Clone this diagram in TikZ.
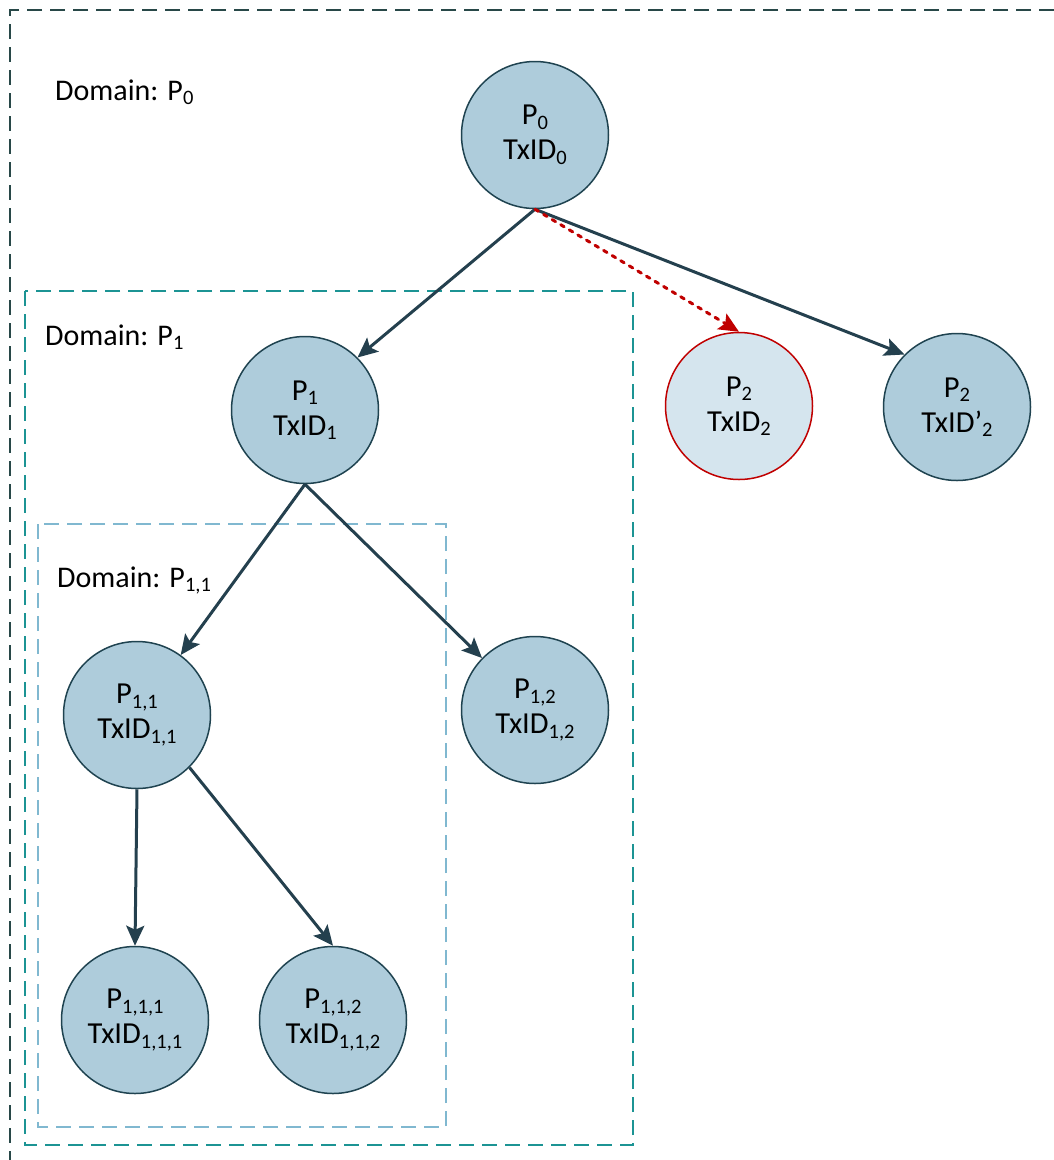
\documentclass[tikz,border=0pt]{standalone}
\usepackage{fontspec}
\setmainfont{Carlito}
\usetikzlibrary{arrows.meta}
\definecolor{nodefill}{RGB}{174,204,219}
\definecolor{nodeline}{RGB}{31,67,80}
\definecolor{edgecol}{RGB}{36,64,78}
\definecolor{redfill}{RGB}{213,229,238}
\definecolor{redline}{RGB}{192,0,0}
\definecolor{outerbox}{RGB}{40,72,72}
\definecolor{tealbox}{RGB}{28,148,148}
\definecolor{lightbox}{RGB}{128,184,208}
\newcommand{\lsub}[1]{\raisebox{-4.5pt}{\fontsize{20.5}{20}\selectfont #1}}
\tikzset{
  pnode/.style={circle, draw=nodeline, fill=nodefill, line width=1.5pt, minimum size=147pt, inner sep=0pt, align=center, font=\fontsize{30.5}{35}\selectfont},
  rednode/.style={pnode, draw=redline, fill=redfill},
  edge/.style={draw=edgecol, line width=3pt, -{Stealth[length=20pt,width=18pt,inset=4pt]}},
  rededge/.style={draw=redline, line width=3pt, dash pattern=on 4pt off 6pt, line cap=round, -{Stealth[length=20pt,width=18pt,inset=4pt,line cap=butt]}},
  dom/.style={dash pattern=on 15pt off 8pt, line width=1.5pt},
  domlabel/.style={anchor=base west, inner sep=0pt, font=\fontsize{30}{36}\selectfont}
}
\begin{document}
\begin{tikzpicture}[x=1pt,y=1pt]
\useasboundingbox (0,0) rectangle (1054,-1160);
% domain boxes
\draw[dom, draw=outerbox] (1054,-10) -- (10,-10) -- (10,-1160);
\draw[dom, draw=tealbox] (25,-291) rectangle (633,-1145);
\draw[dom, draw=lightbox] (38,-524) rectangle (446,-1127);
\node[domlabel] (d0) at (55,-100) {Domain: P\lsub{0}};
\node[domlabel] (d1) at (45,-345) {Domain: P\lsub{1}};
\node[domlabel] (d11) at (57,-587) {Domain: P\lsub{1,1}};
% nodes
\node[pnode] (P0) at (535,-135) {P\lsub{0}\\TxID\lsub{0}};
\node[pnode] (P1) at (305,-410) {P\lsub{1}\\TxID\lsub{1}};
\node[rednode] (P2a) at (739,-406) {P\lsub{2}\\TxID\lsub{2}};
\node[pnode] (P2b) at (957,-407) {P\lsub{2}\\TxID’\lsub{2}};
\node[pnode] (P11) at (137,-715) {P\lsub{1,1}\\TxID\lsub{1,1}};
\node[pnode] (P12) at (535,-710) {P\lsub{1,2}\\TxID\lsub{1,2}};
\node[pnode] (P111) at (135,-1020) {P\lsub{1,1,1}\\TxID\lsub{1,1,1}};
\node[pnode] (P112) at (333,-1020) {P\lsub{1,1,2}\\TxID\lsub{1,1,2}};
% edges
\draw[edge] (P0.south) -- (P1.45);
\draw[edge] (P0.south) -- (P2b.135);
\draw[rededge] (P0.south) -- (P2a.north);
\draw[edge] (P1.south) -- (P11);
\draw[edge] (P1.south) -- (P12);
\draw[edge] (P11.south) -- (P111.north);
\draw[edge] (P11.-45) -- (P112.north);
\end{tikzpicture}
\end{document}
